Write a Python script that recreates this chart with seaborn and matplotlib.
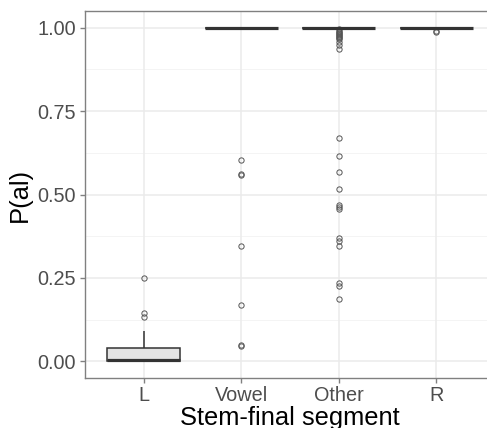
import numpy as np
import pandas as pd
import matplotlib
matplotlib.use("Agg")
import matplotlib.pyplot as plt
import seaborn as sns

# Stem-final segment categories (display order)
segments = ["L", "Vowel", "Other", "R"]

# Per-lemma probabilities of the -al suffix
p_L = [0.0, 0.0, 0.0, 0.0, 0.0, 0.002, 0.003, 0.004, 0.004, 0.005, 0.005,
       0.01, 0.015, 0.02, 0.03, 0.039, 0.055, 0.092, 0.133, 0.145, 0.25]
p_vowel_below1 = [0.603, 0.56, 0.557, 0.3455, 0.17, 0.049, 0.045]
n_vowel_ones = 40
p_other_below1 = [0.995, 0.99, 0.988, 0.985, 0.982, 0.979, 0.976, 0.973,
                  0.97, 0.966, 0.957, 0.948, 0.936,
                  0.668, 0.614, 0.567, 0.515, 0.469, 0.462, 0.456,
                  0.369, 0.362, 0.3455, 0.235, 0.2245, 0.187]
n_other_ones = 120
p_R_below1 = [0.991, 0.988]
n_R_ones = 30

y_ticks = [0.0, 0.25, 0.5, 0.75, 1.0]
y_tick_labels = ["0.00", "0.25", "0.50", "0.75", "1.00"]
minor_ticks = [0.125, 0.375, 0.625, 0.875]

values = {
    "L": p_L,
    "Vowel": p_vowel_below1 + [1.0] * n_vowel_ones,
    "Other": p_other_below1 + [1.0] * n_other_ones,
    "R": p_R_below1 + [1.0] * n_R_ones,
}
df = pd.DataFrame(
    [(seg, v) for seg in segments for v in values[seg]],
    columns=["segment", "p_al"],
)

sns.set_style("white")
plt.rcParams["font.family"] = ["Liberation Sans", "DejaVu Sans"]

W, H = 487, 428
fig = plt.figure(figsize=(W / 100, H / 100), dpi=100)
ax = fig.add_axes([85 / W, 50 / H, 410 / W, 367 / H])

# background grid
for yv in minor_ticks:
    ax.axhline(yv, color="#F2F2F2", lw=0.6, zorder=0)
for yv in y_ticks:
    ax.axhline(yv, color="#EBEBEB", lw=1.1, zorder=0)
for xv in range(len(segments)):
    ax.axvline(xv, color="#EBEBEB", lw=1.1, zorder=0)

sns.boxplot(
    data=df, x="segment", y="p_al", order=segments, ax=ax,
    color="#E3E3E3", saturation=1, linecolor="#333333", linewidth=1.1,
    width=0.75, whis=1.5, fliersize=3.8, showcaps=False,
    flierprops=dict(marker="o", markerfacecolor="none",
                    markeredgecolor="#555555", markeredgewidth=0.7),
    medianprops=dict(linewidth=2.3, color="#333333"),
    zorder=2,
)

ax.set_xlim(-0.6, 3.6)
ax.set_ylim(-0.05, 1.05)
ax.set_yticks(y_ticks)
ax.set_yticklabels(y_tick_labels)

for s in ax.spines.values():
    s.set_visible(True)
    s.set_color("#808080")
    s.set_linewidth(1.0)

ax.tick_params(axis="both", which="major", length=3.5, width=1.0,
               color="#808080", labelcolor="#4D4D4D", labelsize=14.3, pad=3)
ax.tick_params(axis="x", pad=2)
ax.tick_params(axis="both", bottom=True, left=True)

ax.set_xlabel("Stem-final segment", fontsize=18.4, color="black", labelpad=1)
ax.set_ylabel("P(al)", fontsize=18.4, color="black", labelpad=4)

fig.savefig("out.png", dpi=100)
